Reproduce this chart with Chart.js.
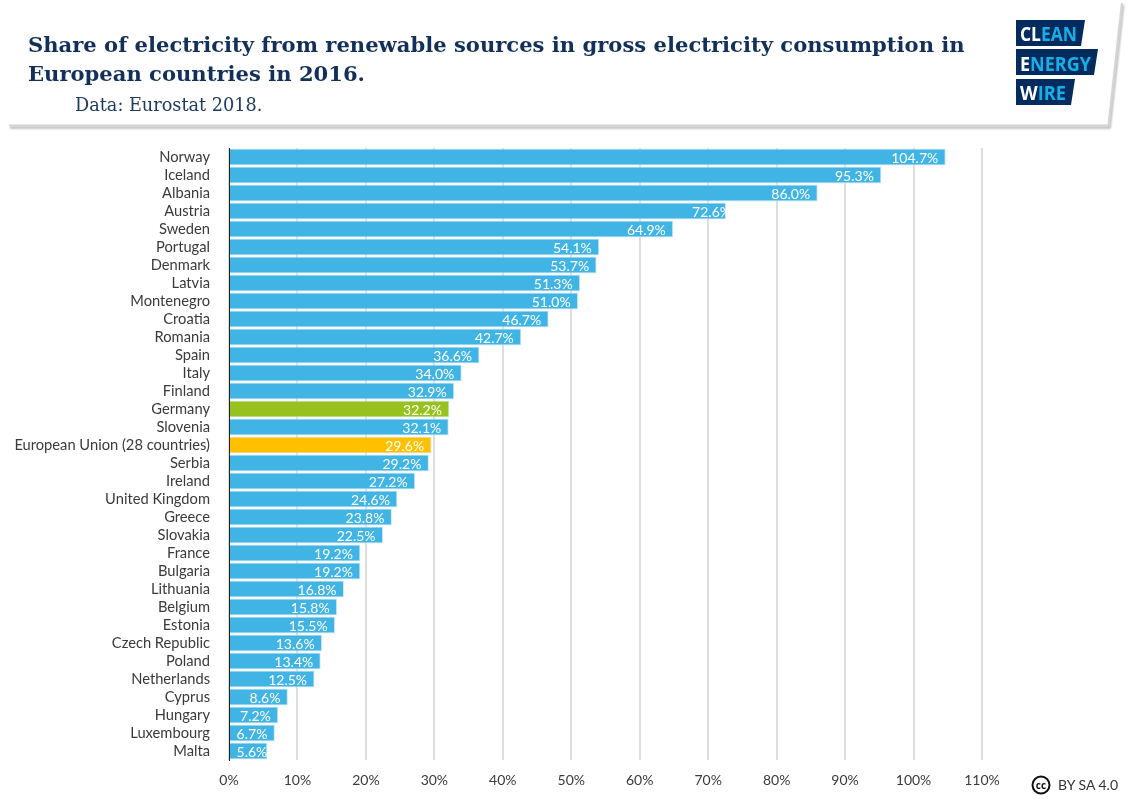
<!DOCTYPE html>
<html>
<head>
<meta charset="utf-8">
<title>Share of electricity from renewable sources</title>
<script src="https://cdn.jsdelivr.net/npm/chart.js@4"></script>
<style>
    html, body { margin: 0; padding: 0; background: #fff; }
    #page { position: relative; width: 1132px; height: 800px; overflow: hidden; }
    #shareChart { position: absolute; left: 0; top: 0; }
    #panel { position: absolute; left: 0; top: 0; }
    .title {
        position: absolute; left: 28px; top: 30px; margin: 0;
        font: bold 21.1px/29px "DejaVu Serif", serif; color: #12305a;
        white-space: nowrap;
    }
    .source {
        position: absolute; left: 75px; top: 93px;
        font: 17.7px/24px "DejaVu Serif", serif; color: #1d3a63;
    }
    .licence {
        position: absolute; left: 1058px; top: 776px;
        font: 14px/18px Lato, sans-serif; color: #333;
    }
</style>
</head>
<body>
<div id="page">
    <canvas id="shareChart" width="1132" height="800"></canvas>
    <svg id="panel" width="1132" height="800">
        <defs>
            <filter id="panelShadow" x="-2%" y="-5%" width="104%" height="115%">
                <feDropShadow dx="1" dy="2" stdDeviation="1.2" flood-color="#8f8f8f" flood-opacity="0.8"/>
            </filter>
        </defs>
        <polyline points="9,125.5 1108.5,125.5 1122,3" fill="none" stroke="#d4d4d4" stroke-width="2" filter="url(#panelShadow)"/>

        <polygon points="1016,20 1085,20 1081,46 1016,46" fill="#042b5e"/>
        <polygon points="1016,49 1098,49 1094,75 1016,75" fill="#042b5e"/>
        <polygon points="1016,79 1075,79 1071,105 1016,105" fill="#042b5e"/>
        <g font-family="'Open Sans', sans-serif" font-weight="700" font-size="20">
            <text x="1020" y="41" textLength="57" lengthAdjust="spacingAndGlyphs"><tspan fill="#fff">CL</tspan><tspan fill="#16afe8">EAN</tspan></text>
            <text x="1020" y="70.5" textLength="71" lengthAdjust="spacingAndGlyphs"><tspan fill="#fff">E</tspan><tspan fill="#16afe8">NERGY</tspan></text>
            <text x="1020" y="100" textLength="46" lengthAdjust="spacingAndGlyphs"><tspan fill="#fff">W</tspan><tspan fill="#16afe8">IRE</tspan></text>
        </g>

        <circle cx="1041" cy="785" r="8.5" fill="#fff" stroke="#111" stroke-width="2"/>
        <text x="1041" y="788.5" text-anchor="middle" font-family="'Open Sans', sans-serif" font-weight="700" font-size="10" fill="#111">cc</text>
    </svg>
    <h1 class="title">Share of electricity from renewable sources in gross electricity consumption in<br>European countries in 2016.</h1>
    <div class="source">Data: Eurostat 2018.</div>
    <div class="licence">BY SA 4.0</div>
</div>

<script>
const countries = [
    "Norway", "Iceland", "Albania", "Austria", "Sweden", "Portugal", "Denmark",
    "Latvia", "Montenegro", "Croatia", "Romania", "Spain", "Italy", "Finland",
    "Germany", "Slovenia", "European Union (28 countries)", "Serbia", "Ireland",
    "United Kingdom", "Greece", "Slovakia", "France", "Bulgaria", "Lithuania",
    "Belgium", "Estonia", "Czech Republic", "Poland", "Netherlands", "Cyprus",
    "Hungary", "Luxembourg", "Malta"
];
const shares = [
    104.7, 95.3, 86.0, 72.6, 64.9, 54.1, 53.7,
    51.3, 51.0, 46.7, 42.7, 36.6, 34.0, 32.9,
    32.2, 32.1, 29.6, 29.2, 27.2,
    24.6, 23.8, 22.5, 19.2, 19.2, 16.8,
    15.8, 15.5, 13.6, 13.4, 12.5, 8.6,
    7.2, 6.7, 5.6
];

const barBlue = "#41b4e6";
const highlights = new Map([
    ["Germany", "#97c11f"],
    ["European Union (28 countries)", "#ffc000"]
]);
const textColor = "#3a3a3a";
const labelFont = "Lato, sans-serif";

// these two labels run past the bar end in the original and get cut off there
const overflowing = new Map([["Austria", 5], ["Malta", 0]]);

// white value labels inside the end of each bar, clipped to the bar
const valueLabels = {
    id: "valueLabels",
    afterDatasetsDraw(chart) {
        const ctx = chart.ctx;
        ctx.font = `14px ${labelFont}`;
        ctx.fillStyle = "#ffffff";
        ctx.textAlign = "right";
        ctx.textBaseline = "middle";
        chart.getDatasetMeta(0).data.forEach((bar, i) => {
            const offset = overflowing.get(countries[i]) ?? -7.5;
            ctx.save();
            ctx.beginPath();
            ctx.rect(bar.base, bar.y - bar.height / 2, bar.x - bar.base, bar.height);
            ctx.clip();
            ctx.fillText(`${shares[i].toFixed(1)}%`, bar.x + offset, bar.y + 1);
            ctx.restore();
        });
    }
};

new Chart(document.getElementById("shareChart"), {
    type: "bar",
    data: {
        labels: countries,
        datasets: [{
            data: shares,
            backgroundColor: countries.map((name) => highlights.get(name) || barBlue),
            borderColor: "#d3e6f1",
            borderWidth: 1,
            categoryPercentage: 1,
            barPercentage: 0.94
        }]
    },
    options: {
        indexAxis: "y",
        responsive: false,
        animation: false,
        events: [],
        layout: { padding: { top: 148, right: 150, left: 0, bottom: 0 } },
        plugins: { legend: { display: false }, tooltip: { enabled: false } },
        scales: {
            x: {
                min: 0,
                max: 110,
                afterFit: (scale) => { scale.height = 40; },
                ticks: {
                    stepSize: 10,
                    maxRotation: 0,
                    padding: 12,
                    color: textColor,
                    font: { family: labelFont, size: 14 },
                    callback: (value) => `${value}%`
                },
                grid: { color: "#dedede", lineWidth: 2, drawTicks: false },
                border: { display: false }
            },
            y: {
                afterFit: (scale) => { scale.width = 229; },
                ticks: {
                    autoSkip: false,
                    padding: 19,
                    color: textColor,
                    font: { family: labelFont, size: 14.7 }
                },
                grid: { display: false, drawTicks: false },
                border: { display: true, color: "#222222", width: 1 }
            }
        }
    },
    plugins: [valueLabels]
});
</script>
</body>
</html>
